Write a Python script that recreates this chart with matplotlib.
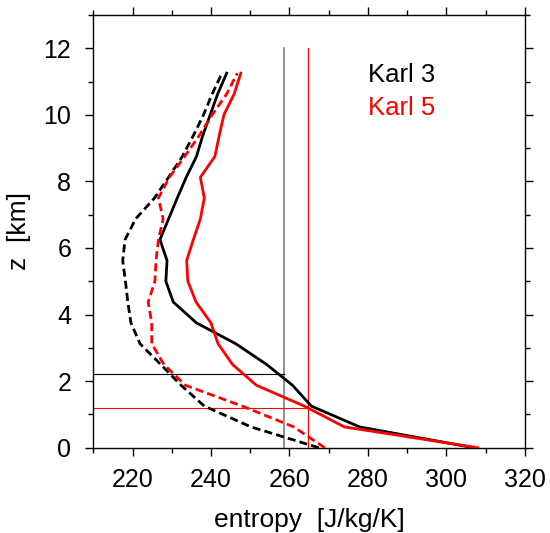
import matplotlib
matplotlib.use("Agg")
import matplotlib.pyplot as plt
from matplotlib.ticker import MultipleLocator

plt.rcParams['font.family'] = ['Liberation Sans', 'DejaVu Sans']

# heights of model levels [km]
z = [0.0, 0.625, 1.25, 1.875, 2.5, 3.125, 3.75, 4.375, 5.0, 5.625,
     6.25, 6.875, 7.5, 8.125, 8.75, 9.375, 10.0, 10.625, 11.25]

# Karl 3 (black)
karl3_solid = [307.0, 277.9, 265.6, 260.8, 254.2, 246.3, 236.3, 230.4, 228.5, 228.8,
               227.0, 229.2, 231.4, 233.7, 236.3, 237.9, 239.8, 241.7, 244.0]
karl3_dashed = [267.5, 250.2, 238.3, 232.4, 227.2, 221.9, 219.6, 218.8, 218.2, 217.5,
                218.1, 220.8, 225.6, 229.2, 232.7, 235.5, 238.1, 240.3, 242.8]

# Karl 5 (red)
karl5_solid = [308.0, 274.0, 263.8, 251.6, 245.5, 241.8, 240.0, 236.2, 234.1, 233.8,
               235.5, 237.3, 238.3, 237.3, 241.0, 242.1, 243.3, 245.9, 247.6]
karl5_dashed = [269.0, 261.1, 248.0, 233.5, 228.0, 224.9, 224.9, 224.0, 225.7, 226.0,
                226.6, 227.8, 226.6, 229.4, 233.3, 237.0, 240.3, 244.0, 246.7]

# reference lines: (vertical entropy value, horizontal height)
karl3_ref = (258.5, 2.2)
karl5_ref = (264.8, 1.2)
ref_top = 12.0

labels = ["Karl 3", "Karl 5"]
colors = ["black", "#ff0000"]

fig = plt.figure(figsize=(5.5, 5.33), dpi=100)
ax = fig.add_axes([0.1696, 0.16, 0.9542 - 0.1696, 0.9719 - 0.16])

# reference lines
ax.plot([karl3_ref[0], karl3_ref[0]], [0, ref_top], color="0.45", lw=1.1, zorder=1)
ax.plot([karl5_ref[0], karl5_ref[0]], [0, ref_top], color=colors[1], lw=0.8, zorder=1)
ax.plot([210, karl3_ref[0]], [karl3_ref[1], karl3_ref[1]], color=colors[0], lw=0.8, zorder=1)
ax.plot([210, karl5_ref[0]], [karl5_ref[1], karl5_ref[1]], color=colors[1], lw=0.8, zorder=1)

lw = 2.0
ax.plot(karl3_dashed, z, color=colors[0], lw=lw, dashes=(2.9, 1.5), zorder=3)
ax.plot(karl3_solid, z, color=colors[0], lw=lw, zorder=3)
ax.plot(karl5_dashed, z, color=colors[1], lw=lw, dashes=(2.9, 1.5), zorder=4)
ax.plot(karl5_solid, z, color=colors[1], lw=lw, zorder=4)

ax.text(280, 11, labels[0], color=colors[0], fontsize=18.5, va="baseline", ha="left")
ax.text(280, 10, labels[1], color=colors[1], fontsize=18.5, va="baseline", ha="left")

ax.set_xlim(210, 320)
ax.set_ylim(0, 13)
ax.xaxis.set_major_locator(MultipleLocator(20))
ax.xaxis.set_minor_locator(MultipleLocator(10))
ax.yaxis.set_major_locator(MultipleLocator(2))
ax.yaxis.set_minor_locator(MultipleLocator(1))

ax.tick_params(which="both", direction="out", top=True, right=True, width=1.0,
               labelsize=18)
ax.tick_params(which="major", length=5.8)
ax.tick_params(which="minor", length=3.6)
ax.tick_params(axis="x", which="major", pad=9)
ax.tick_params(axis="y", which="major", pad=10)
for s in ax.spines.values():
    s.set_linewidth(1.0)

ax.set_xlabel("entropy  [J/kg/K]", fontsize=19, labelpad=11)
ax.set_ylabel("z  [km]", fontsize=19, labelpad=9)

fig.savefig("out.png", dpi=100)
